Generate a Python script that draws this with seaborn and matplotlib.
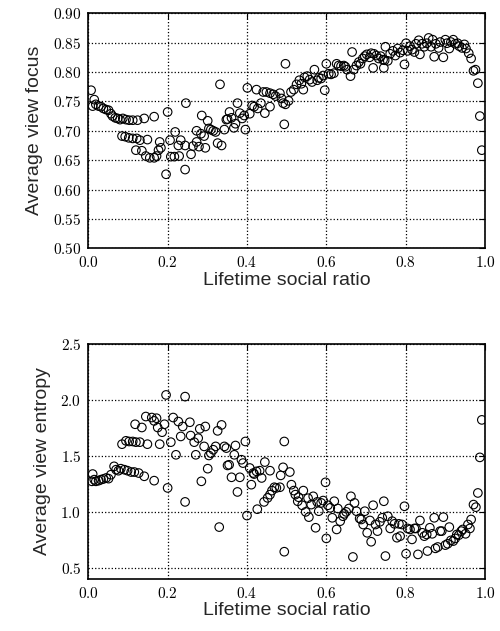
import matplotlib
matplotlib.use('Agg')
import matplotlib.pyplot as plt
import seaborn as sns
import pandas as pd
from matplotlib.ticker import FuncFormatter, MultipleLocator

# Top panel: lifetime social ratio vs average view focus
focus_x = [
    .007, .015, .011, .019, .026, .032, .038, .045, .051, .057, .061, .068, .074, .080, .087,
    .095, .103, .112, .124, .141, .166, .085, .093, .102, .112, .122, .130, .149, .120, .135,
    .145, .155, .166, .172, .177, .183, .180, .196, .200, .206, .208, .217, .219, .227, .229,
    .233, .244, .244, .246,
    .259, .264, .273, .273, .279, .284, .286, .292, .295, .301, .304, .309, .315, .321, .326,
    .332, .336, .343, .348, .351, .356, .361, .367, .371, .376, .382, .388, .393, .396, .401,
    .407, .413, .418, .424, .427, .435, .441, .445, .449, .458, .458, .466, .472, .483, .487,
    .491, .494, .497,
    .497, .505, .511, .518, .525, .532, .537, .542, .545, .552, .558, .564, .570, .577, .581,
    .587, .592, .596, .600, .606, .612, .619, .626, .631, .637, .644, .648, .652, .661, .665,
    .669, .676, .682, .686, .692, .697, .702, .709, .713, .718, .720, .726, .732, .737, .743,
    .745, .749,
    .747, .755, .761, .768, .774, .780, .786, .793, .797, .801, .805, .811, .816, .822, .826,
    .833, .836, .841, .847, .853, .858, .864, .868, .872, .876, .883, .887, .895, .900, .904,
    .910, .914, .920, .925, .931, .935, .942, .948, .952, .959, .965, .971, .976, .982, .987,
    .992,
]
focus_y = [
    .769, .753, .742, .745, .742, .741, .738, .736, .735, .729, .725, .722, .721, .719, .721,
    .719, .718, .718, .718, .721, .724, .691, .690, .688, .687, .687, .684, .685, .667, .666,
    .657, .654, .654, .657, .667, .671, .681, .626, .732, .684, .656, .656, .698, .675, .657,
    .684, .634, .675, .747,
    .660, .674, .681, .700, .673, .695, .726, .691, .671, .717, .704, .702, .700, .698, .679,
    .779, .675, .702, .719, .720, .732, .722, .705, .712, .747, .730, .721, .726, .702, .773,
    .729, .743, .741, .770, .738, .747, .766, .730, .766, .741, .764, .762, .759, .764, .755,
    .747, .711, .814,
    .745, .751, .766, .770, .779, .786, .780, .770, .791, .793, .787, .783, .804, .786, .790,
    .789, .794, .769, .814, .797, .796, .798, .814, .811, .810, .811, .809, .804, .793, .834,
    .804, .811, .817, .814, .823, .827, .830, .825, .832, .807, .831, .828, .823, .827, .821,
    .807, .843,
    .820, .819, .831, .836, .828, .840, .833, .837, .813, .849, .836, .844, .838, .834, .848,
    .854, .830, .848, .843, .849, .858, .843, .855, .826, .848, .841, .851, .825, .855, .849,
    .840, .851, .855, .848, .849, .844, .841, .847, .840, .832, .823, .802, .804, .781, .725,
    .667,
]

# Bottom panel: lifetime social ratio vs average view entropy
entropy_x = [
    .011, .009, .015, .019, .026, .032, .038, .045, .051, .057, .065, .070, .076, .082, .091,
    .099, .108, .116, .127, .141, .166, .085, .095, .103, .112, .120, .130, .149, .118, .135,
    .145, .160, .172, .166, .175, .186, .192, .180, .196, .200, .208, .214, .221, .227, .233,
    .238, .244, .244,
    .256, .258, .267, .277, .281, .295, .271, .292, .301, .304, .309, .315, .321, .326, .336,
    .330, .285, .343, .351, .355, .348, .361, .371, .368, .382, .376, .386, .390, .396, .400,
    .407, .416, .411, .424, .418, .426, .437, .432, .445, .443, .452, .458, .458, .463, .469,
    .474, .483, .485, .491, .494, .494,
    .508, .512, .518, .522, .528, .530, .539, .542, .548, .554, .556, .562, .567, .573, .577,
    .581, .587, .592, .598, .600, .604, .610, .615, .620, .626, .629, .635, .642, .645, .650,
    .657, .662, .667, .671, .676, .684, .688, .693, .697, .703, .710, .713, .718, .724, .729,
    .735, .741, .745, .749,
    .755, .761, .766, .772, .778, .783, .786, .791, .797, .801, .805, .811, .816, .822, .826,
    .831, .836, .842, .847, .853, .855, .861, .867, .872, .875, .881, .887, .891, .895, .900,
    .906, .910, .914, .920, .925, .929, .934, .940, .944, .951, .957, .962, .965, .971, .977,
    .982, .987, .992,
]
entropy_y = [
    1.338, 1.273, 1.288, 1.273, 1.279, 1.288, 1.294, 1.303, 1.297, 1.332, 1.407, 1.377, 1.368,
    1.386, 1.377, 1.368, 1.356, 1.356, 1.347, 1.318, 1.279, 1.605, 1.635, 1.629, 1.629, 1.623,
    1.623, 1.605, 1.783, 1.754, 1.852, 1.843, 1.837, 1.813, 1.754, 1.712, 1.783, 1.605, 2.045,
    1.214, 1.623, 1.843, 1.510, 1.807, 1.674, 1.763, 2.030, 1.089,
    1.801, 1.682, 1.623, 1.659, 1.742, 1.763, 1.510, 1.585, 1.386, 1.504, 1.525, 1.555, 1.585,
    1.724, 1.777, 0.864, 1.273, 1.585, 1.415, 1.421, 1.570, 1.309, 1.593, 1.510, 1.309, 1.178,
    1.466, 1.436, 1.629, 0.967, 1.392, 1.347, 1.243, 1.362, 1.338, 1.024, 1.303, 1.368, 1.445,
    1.089, 1.125, 1.368, 1.154, 1.190, 1.220, 1.214, 1.220, 1.326, 1.398, 1.629, 0.644,
    1.356, 1.243, 1.190, 1.154, 1.095, 1.131, 1.059, 1.190, 1.000, 1.122, 0.953, 1.065, 1.139,
    0.858, 1.089, 1.006, 1.080, 1.101, 1.264, 0.763, 1.059, 1.036, 0.947, 1.095, 0.843, 1.030,
    0.917, 0.961, 0.982, 1.000, 1.030, 1.139, 0.597, 1.080, 1.006, 0.941, 0.932, 0.887, 1.006,
    0.813, 0.923, 0.733, 1.059, 0.887, 0.828, 0.911, 0.947, 1.095, 0.605,
    0.961, 0.852, 0.917, 0.893, 0.769, 0.893, 0.783, 0.887, 1.050, 0.626, 0.852, 0.843, 0.754,
    0.852, 0.852, 0.620, 0.923, 0.813, 0.783, 0.798, 0.650, 0.858, 0.804, 0.947, 0.674, 0.686,
    0.828, 0.828, 0.953, 0.703, 0.715, 0.864, 0.745, 0.739, 0.763, 0.798, 0.792, 0.828, 0.843,
    0.804, 0.887, 0.852, 0.932, 1.065, 1.042, 1.169, 1.487, 1.822,
]

focus_df = pd.DataFrame({'ratio': focus_x, 'focus': focus_y})
entropy_df = pd.DataFrame({'ratio': entropy_x, 'entropy': entropy_y})

sns.set_style('white')
plt.rcParams['font.family'] = ['Liberation Sans', 'DejaVu Sans']
plt.rcParams['mathtext.fontset'] = 'cm'

fig = plt.figure(figsize=(5, 6.31), dpi=100)
ax1 = fig.add_axes([0.1766, 0.6065, 0.7934, 0.3725])
ax2 = fig.add_axes([0.1766, 0.0824, 0.7934, 0.3724])


def style_axes(ax, ylim, ystep, yfmt):
    ax.set_xlim(0, 1)
    ax.set_ylim(*ylim)
    ax.xaxis.set_major_locator(MultipleLocator(0.2))
    ax.yaxis.set_major_locator(MultipleLocator(ystep))
    ax.xaxis.set_major_formatter(FuncFormatter(lambda v, p: f'${v:.1f}$'))
    ax.yaxis.set_major_formatter(FuncFormatter(lambda v, p: ('$' + yfmt + '$').format(v)))
    ax.grid(True, color='black', linestyle=':', linewidth=0.9)
    ax.tick_params(direction='in', length=4, width=0.8, top=True, right=True,
                   labelsize=11, pad=5, colors='black')
    for s in ax.spines.values():
        s.set_linewidth(1.2)
        s.set_color('black')
    ax.set_xlabel('Lifetime social ratio', fontsize=14, labelpad=1)


sns.scatterplot(data=focus_df, x='ratio', y='focus', ax=ax1, s=38,
                facecolors='none', edgecolor='black', linewidth=0.8)
style_axes(ax1, (0.5, 0.9), 0.05, '{:.2f}')
ax1.set_ylabel('Average view focus', fontsize=14, labelpad=7)

sns.scatterplot(data=entropy_df, x='ratio', y='entropy', ax=ax2, s=38,
                facecolors='none', edgecolor='black', linewidth=0.8)
style_axes(ax2, (0.4, 2.5), 0.5, '{:.1f}')
ax2.set_ylabel('Average view entropy', fontsize=14, labelpad=7)

fig.savefig('out.png', dpi=100)
